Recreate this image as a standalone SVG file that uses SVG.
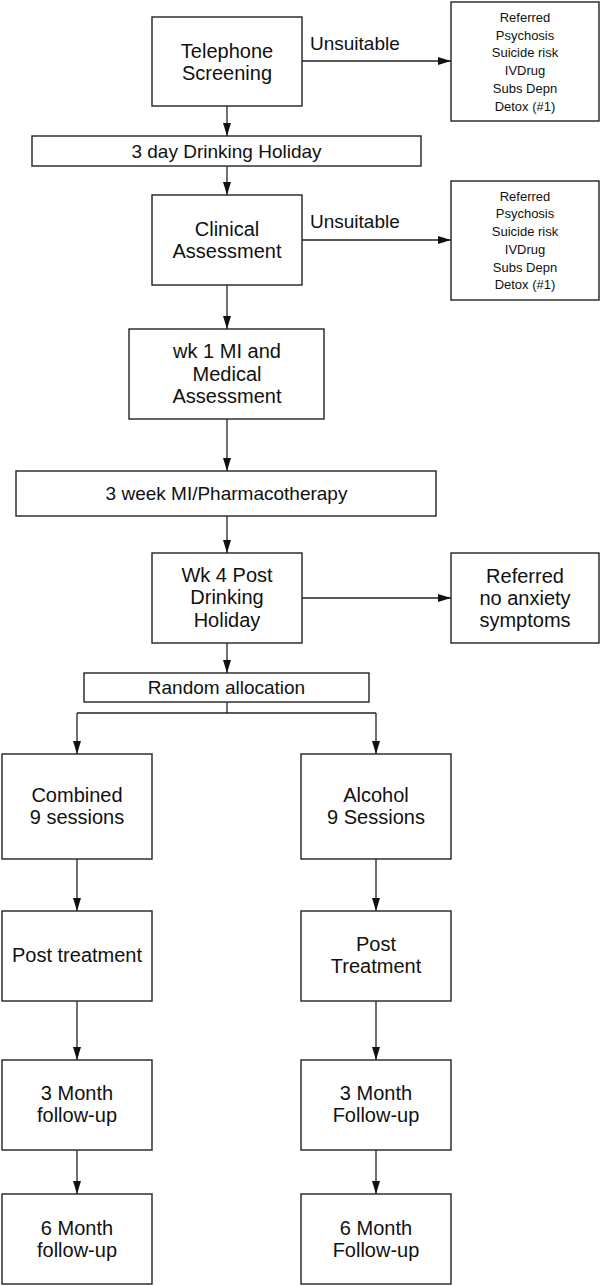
<svg xmlns="http://www.w3.org/2000/svg" width="600" height="1286" viewBox="0 0 600 1286">
<style>
.box{fill:#fff;stroke:#222;stroke-width:1.4}
.t{font-family:"Liberation Sans",Arial,sans-serif;font-size:20px;fill:#111;text-anchor:middle}
.b{font-size:19px}
.s{font-family:"Liberation Sans",Arial,sans-serif;font-size:13px;fill:#111;text-anchor:middle}
.lbl{font-family:"Liberation Sans",Arial,sans-serif;font-size:19px;fill:#111}
.c{fill:none;stroke:#222;stroke-width:1.3}
</style>
<defs>
<marker id="ah" markerUnits="userSpaceOnUse" markerWidth="13" markerHeight="8" refX="13" refY="4" orient="auto">
<path d="M0,0 L13,4 L0,8 Z" fill="#111"/>
</marker>
</defs>
<rect width="600" height="1286" fill="#fff"/>
<g id="connectors">
<line class="c" x1="227" y1="106" x2="227" y2="136" marker-end="url(#ah)"/>
<line class="c" x1="302" y1="61" x2="451" y2="61" marker-end="url(#ah)"/>
<text class="lbl" x="310" y="50">Unsuitable</text>
<line class="c" x1="227" y1="166" x2="227" y2="195" marker-end="url(#ah)"/>
<line class="c" x1="302" y1="240" x2="451" y2="240" marker-end="url(#ah)"/>
<text class="lbl" x="310" y="228">Unsuitable</text>
<line class="c" x1="227" y1="285" x2="227" y2="329" marker-end="url(#ah)"/>
<line class="c" x1="227" y1="419" x2="227" y2="471" marker-end="url(#ah)"/>
<line class="c" x1="227" y1="516" x2="227" y2="553" marker-end="url(#ah)"/>
<line class="c" x1="302" y1="598" x2="451" y2="598" marker-end="url(#ah)"/>
<line class="c" x1="227" y1="643" x2="227" y2="673" marker-end="url(#ah)"/>
<polyline class="c" points="227,702 227,713"/>
<line class="c" x1="77" y1="713" x2="376" y2="713"/>
<line class="c" x1="77" y1="713" x2="77" y2="754" marker-end="url(#ah)"/>
<line class="c" x1="376" y1="713" x2="376" y2="754" marker-end="url(#ah)"/>
<line class="c" x1="77" y1="859" x2="77" y2="911" marker-end="url(#ah)"/>
<line class="c" x1="376" y1="859" x2="376" y2="911" marker-end="url(#ah)"/>
<line class="c" x1="77" y1="1001" x2="77" y2="1060" marker-end="url(#ah)"/>
<line class="c" x1="376" y1="1001" x2="376" y2="1060" marker-end="url(#ah)"/>
<line class="c" x1="77" y1="1150" x2="77" y2="1194" marker-end="url(#ah)"/>
<line class="c" x1="376" y1="1150" x2="376" y2="1194" marker-end="url(#ah)"/>
</g>
<g id="telephone">
<rect class="box" x="152" y="17" width="150" height="89"/>
<text class="t" x="227" y="58">Telephone</text>
<text class="t" x="227" y="80">Screening</text>
</g>
<g id="referred1">
<rect class="box" x="451" y="2" width="148" height="119"/>
<text class="s" x="525" y="22">Referred</text>
<text class="s" x="525" y="40">Psychosis</text>
<text class="s" x="525" y="57">Suicide risk</text>
<text class="s" x="525" y="75">IVDrug</text>
<text class="s" x="525" y="93">Subs Depn</text>
<text class="s" x="525" y="111">Detox (#1)</text>
</g>
<g id="holiday3">
<rect class="box" x="32" y="136" width="389" height="30"/>
<text class="t b" x="226.5" y="158">3 day Drinking Holiday</text>
</g>
<g id="clinical">
<rect class="box" x="152" y="195" width="150" height="90"/>
<text class="t" x="227" y="236">Clinical</text>
<text class="t" x="227" y="258">Assessment</text>
</g>
<g id="referred2">
<rect class="box" x="451" y="181" width="148" height="119"/>
<text class="s" x="525" y="201">Referred</text>
<text class="s" x="525" y="218">Psychosis</text>
<text class="s" x="525" y="236">Suicide risk</text>
<text class="s" x="525" y="254">IVDrug</text>
<text class="s" x="525" y="272">Subs Depn</text>
<text class="s" x="525" y="289">Detox (#1)</text>
</g>
<g id="wk1">
<rect class="box" x="129" y="329" width="195" height="90"/>
<text class="t" x="227" y="358">wk 1 MI and</text>
<text class="t" x="227" y="381">Medical</text>
<text class="t" x="227" y="403">Assessment</text>
</g>
<g id="week3">
<rect class="box" x="16" y="471" width="420" height="45"/>
<text class="t b" x="226.5" y="500">3 week MI/Pharmacotherapy</text>
</g>
<g id="wk4">
<rect class="box" x="152" y="553" width="150" height="90"/>
<text class="t" x="227" y="582">Wk 4 Post</text>
<text class="t" x="227" y="604">Drinking</text>
<text class="t" x="227" y="627">Holiday</text>
</g>
<g id="referred3">
<rect class="box" x="451" y="553" width="148" height="90"/>
<text class="t" x="525" y="583">Referred</text>
<text class="t" x="525" y="605">no anxiety</text>
<text class="t" x="525" y="627">symptoms</text>
</g>
<g id="random">
<rect class="box" x="84" y="673" width="285" height="29"/>
<text class="t b" x="226.5" y="694">Random allocation</text>
</g>
<g id="combined">
<rect class="box" x="2" y="754" width="150" height="105"/>
<text class="t" x="77" y="802">Combined</text>
<text class="t" x="77" y="824">9 sessions</text>
</g>
<g id="alcohol">
<rect class="box" x="301" y="754" width="150" height="105"/>
<text class="t" x="376" y="802">Alcohol</text>
<text class="t" x="376" y="824">9 Sessions</text>
</g>
<g id="post1">
<rect class="box" x="2" y="911" width="150" height="90"/>
<text class="t" x="77" y="962">Post treatment</text>
</g>
<g id="post2">
<rect class="box" x="301" y="911" width="150" height="90"/>
<text class="t" x="376" y="951">Post</text>
<text class="t" x="376" y="973">Treatment</text>
</g>
<g id="month3a">
<rect class="box" x="2" y="1060" width="150" height="90"/>
<text class="t" x="77" y="1100">3 Month</text>
<text class="t" x="77" y="1122">follow-up</text>
</g>
<g id="month3b">
<rect class="box" x="301" y="1060" width="150" height="90"/>
<text class="t" x="376" y="1100">3 Month</text>
<text class="t" x="376" y="1122">Follow-up</text>
</g>
<g id="month6a">
<rect class="box" x="2" y="1194" width="150" height="90"/>
<text class="t" x="77" y="1235">6 Month</text>
<text class="t" x="77" y="1257">follow-up</text>
</g>
<g id="month6b">
<rect class="box" x="301" y="1194" width="150" height="90"/>
<text class="t" x="376" y="1235">6 Month</text>
<text class="t" x="376" y="1257">Follow-up</text>
</g>
</svg>
